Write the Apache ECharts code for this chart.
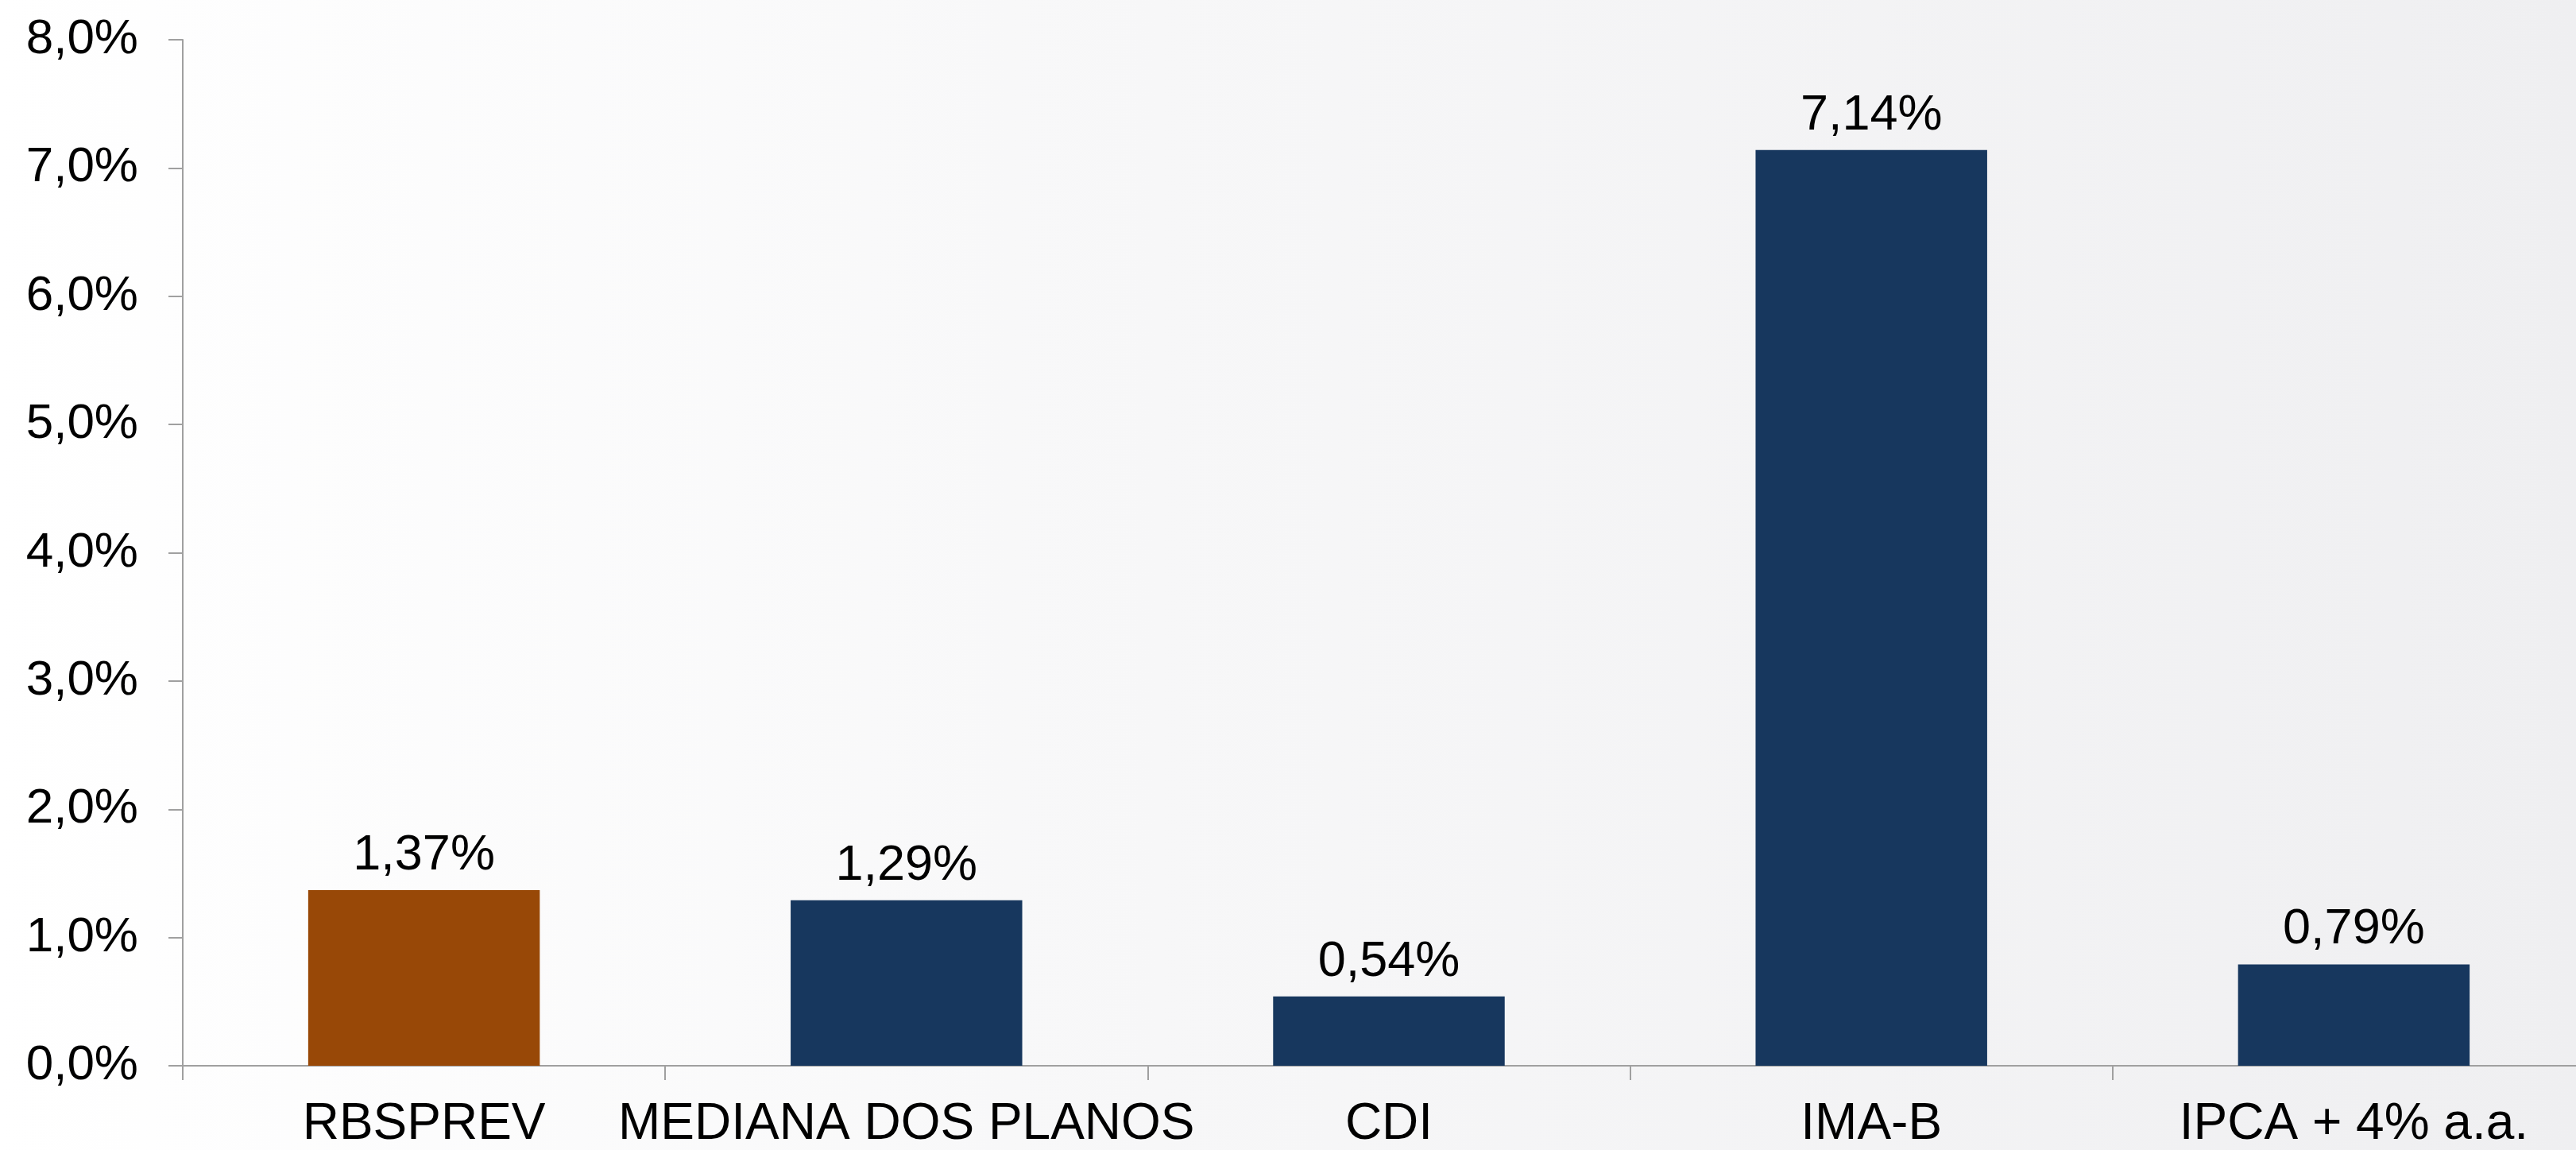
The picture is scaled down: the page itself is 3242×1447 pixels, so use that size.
<!DOCTYPE html>
<html>
<head>
<meta charset="utf-8">
<title>Rentabilidade</title>
<script src="https://cdn.jsdelivr.net/npm/echarts@6/dist/echarts.min.js"></script>
<style>
  html, body {
    margin: 0;
    padding: 0;
    overflow: hidden;
  }
  body {
    width: 3242px;
    height: 1447px;
    background: linear-gradient(to right, #ffffff 0%, #f7f7f8 45%, #efeff1 100%);
  }
  /* a área do gráfico passa um pouco da borda direita, como no original */
  .chart {
    width: 3266px;
    height: 1447px;
  }
</style>
</head>
<body>
<div class="chart" id="chart"></div>
<script>
// dados do gráfico
const categorias = ['RBSPREV', 'MEDIANA DOS PLANOS', 'CDI', 'IMA-B', 'IPCA + 4% a.a.']
const valores = [1.37, 1.29, 0.54, 7.14, 0.79]
const yMin = 0
const yMax = 8
const yPasso = 1

const corDestaque = '#984807'
const corPadrao = '#17375e'

const fonte = '"Liberation Sans", Arial, sans-serif'

function pct(v, casas) {
  return v.toFixed(casas).replace('.', ',') + '%'
}

const myChart = echarts.init(document.getElementById('chart'))
myChart.setOption({
  backgroundColor: 'transparent',
  animation: false,
  grid: {
    left: 230,
    right: 0,
    top: 50,
    bottom: 105
  },
  xAxis: {
    type: 'category',
    data: categorias,
    axisLine: {
      lineStyle: { color: '#a0a0a0', width: 2 }
    },
    axisTick: {
      show: true,
      length: 18,
      lineStyle: { color: '#a0a0a0', width: 2 }
    },
    axisLabel: {
      interval: 0,
      margin: 42,
      color: '#000',
      fontSize: 64,
      fontFamily: fonte
    }
  },
  yAxis: {
    type: 'value',
    min: yMin,
    max: yMax,
    interval: yPasso,
    splitLine: { show: false },
    axisLine: {
      show: true,
      lineStyle: { color: '#a0a0a0', width: 2 }
    },
    axisTick: {
      show: true,
      length: 18,
      lineStyle: { color: '#a0a0a0', width: 2 }
    },
    axisLabel: {
      margin: 56,
      color: '#000',
      fontSize: 62,
      fontFamily: fonte,
      formatter: function (v) {
        return pct(v, 1)
      }
    }
  },
  /* barras */
  series: [
    {
      type: 'bar',
      data: valores.map(function (v, i) {
        return {
          value: v,
          itemStyle: { color: i === 0 ? corDestaque : corPadrao }
        }
      }),
      barWidth: '48%',
      label: {
        show: true,
        position: 'top',
        distance: 12,
        color: '#000',
        fontSize: 63,
        fontFamily: fonte,
        formatter: function (p) {
          return pct(p.value, 2)
        }
      }
    }
  ]
})
</script>
</body>
</html>
